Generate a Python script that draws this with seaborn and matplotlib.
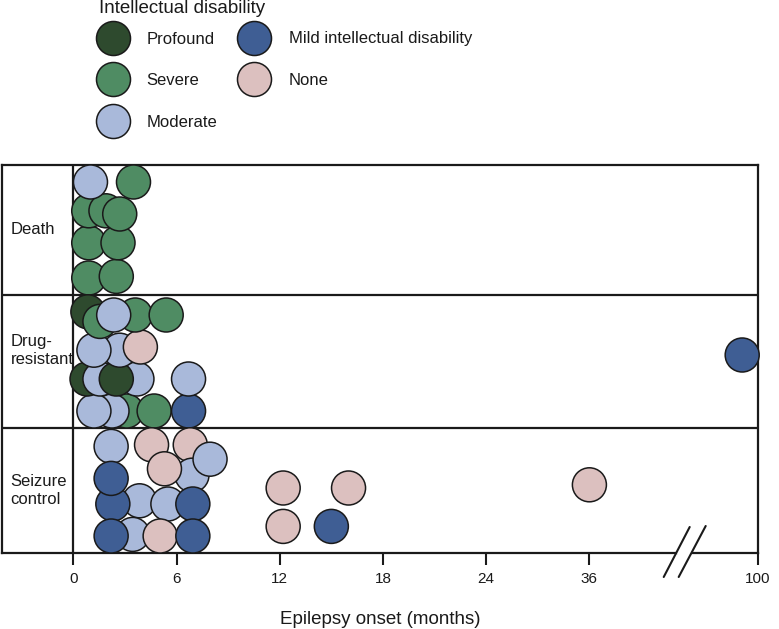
import numpy as np
import pandas as pd
import matplotlib
matplotlib.use('Agg')
import matplotlib.pyplot as plt
import matplotlib.lines as mlines
import seaborn as sns

# categories
id_levels = ['Profound', 'Severe', 'Moderate', 'Mild intellectual disability', 'None']
id_colors = ['#2e4a2e', '#4f8c63', '#a9b9da', '#3f5e94', '#dcc0bf']
outcomes = ['Seizure control', 'Drug-resistant', 'Death']
outcome_labels = ['Seizure\ncontrol', 'Drug-\nresistant', 'Death']

# x ticks (months); axis is broken after 36
tick_months = [0, 6, 12, 18, 24, 36, 100]

# Death (onset months, ID, stacking level in the swarm)
death_onset = [0.9, 2.5, 0.9, 2.6, 0.9, 1.9, 2.7, 1.0, 3.5]
death_id = ['Severe', 'Severe', 'Severe', 'Severe', 'Severe', 'Severe', 'Severe', 'Moderate', 'Severe']
death_stack = [0.0, 0.05, 1.1, 1.1, 2.1, 2.1, 2.0, 3.0, 3.0]

# Drug-resistant
drug_onset = [3.1, 2.25, 1.2, 4.7, 6.7,
              0.8, 1.55, 3.7, 2.5, 6.7, 94,
              2.7, 1.2, 3.9,
              0.85, 1.55, 3.6, 2.35, 5.4]
drug_id = ['Severe', 'Moderate', 'Moderate', 'Severe', 'Mild intellectual disability',
           'Profound', 'Moderate', 'Moderate', 'Profound', 'Moderate', 'Mild intellectual disability',
           'Moderate', 'Moderate', 'None',
           'Profound', 'Severe', 'Severe', 'Moderate', 'Severe']
drug_stack = [0.0, 0.0, 0.0, 0.0, 0.0,
              1.0, 1.0, 1.0, 1.0, 1.0, 1.75,
              1.9, 1.9, 2.0,
              3.1, 2.8, 3.0, 3.0, 3.0]

# Seizure control
seiz_onset = [2.2, 4.55, 6.8, 6.9, 5.3, 7.95,
              3.85, 5.5, 2.3, 6.95, 2.2,
              3.45, 2.2, 5.05, 6.95,
              12.2, 16.0, 36, 12.2, 15.0]
seiz_id = ['Moderate', 'None', 'None', 'Moderate', 'None', 'Moderate',
           'Moderate', 'Moderate', 'Mild intellectual disability', 'Mild intellectual disability',
           'Mild intellectual disability',
           'Moderate', 'Mild intellectual disability', 'None', 'Mild intellectual disability',
           'None', 'None', 'None', 'None', 'Mild intellectual disability']
seiz_stack = [2.8, 2.85, 2.85, 1.9, 2.1, 2.4,
              1.1, 1.0, 1.0, 1.0, 1.8,
              0.05, 0.0, 0.0, 0.0,
              1.5, 1.5, 1.6, 0.3, 0.3]


def to_axis(m):
    # 0-24 linear, 24-36 compressed, then break up to 100
    m = np.asarray(m, dtype=float)
    return np.where(m <= 24, m,
                    np.where(m <= 36, 24 + (m - 24) / 2, 30 + (m - 36) * 9.8 / 64))


# panel edges in axis units (pixel-like)
panel_edges = [0, 125, 258, 388]
row_pad, row_step = 17, 32

frames = []
for i, (name, on, idl, st) in enumerate([
        ('Seizure control', seiz_onset, seiz_id, seiz_stack),
        ('Drug-resistant', drug_onset, drug_id, drug_stack),
        ('Death', death_onset, death_id, death_stack)]):
    frames.append(pd.DataFrame({'outcome': name, 'onset': on, 'ID': idl, 'stack': st,
                                'panel': i}))
# draw death first, then drug, then seizure
df = pd.concat(frames[::-1], ignore_index=True)
df['xpos'] = to_axis(df['onset'])
df['ypos'] = [panel_edges[p] + row_pad + row_step * s for p, s in zip(df['panel'], df['stack'])]

sns.set_style('white')
plt.rcParams['font.family'] = ['Liberation Sans', 'DejaVu Sans']

fig = plt.figure(figsize=(7.79, 6.29), dpi=100)
ax = fig.add_axes([2 / 779, 1 - 553 / 629, 756 / 779, 388 / 629])

edge = '#1a1a1a'
sns.scatterplot(data=df, x='xpos', y='ypos', hue='ID', hue_order=id_levels,
                palette=dict(zip(id_levels, id_colors)), s=600, edgecolor=edge,
                linewidth=1.1, legend=False, ax=ax, zorder=3, clip_on=False)

x_left = -(73.3 - 2) / 17.21
ax.set_xlim(x_left, float(to_axis(100)))
ax.set_ylim(panel_edges[0], panel_edges[-1])

# panel separators and the zero line
for yv in panel_edges[1:-1]:
    ax.axhline(yv, color=edge, lw=1.6, zorder=1)
ax.axvline(0, color=edge, lw=1.6, zorder=1)

# outcome labels
label_frac = [0.5, 0.58, 0.5]
for i, lab in enumerate(outcome_labels):
    yv = panel_edges[i] + label_frac[i] * (panel_edges[i + 1] - panel_edges[i])
    ax.text(x_left + 0.5, yv, lab, ha='left', va='center', fontsize=12,
            linespacing=1.25, color='#1a1a1a')

for s in ax.spines.values():
    s.set_linewidth(1.6)
    s.set_color(edge)

ax.set_xticks(to_axis(tick_months))
ax.set_xticklabels([str(t) for t in tick_months])
ax.set_yticks([])
ax.tick_params(axis='x', bottom=True, direction='out', length=8.6, width=1.5,
               pad=5, labelsize=11, colors='#1a1a1a')
ax.set_xlabel('Epilepsy onset (months)', fontsize=13.5, labelpad=18, color='#1a1a1a')
ax.set_ylabel('')

# axis break
ax.plot([35.2, 35.85], [0, 0], color='white', lw=3, clip_on=False, zorder=5)
ax.plot([34.32, 35.83], [-24, 26], color=edge, lw=1.5, clip_on=False, zorder=6)
ax.plot([35.19, 36.76], [-24, 27], color=edge, lw=1.5, clip_on=False, zorder=6)

# legend
fig.text(99 / 779, 1 - 8.5 / 629, 'Intellectual disability', fontsize=13.5,
         ha='left', va='center', color='#1a1a1a')
handles = [mlines.Line2D([], [], marker='o', ls='', markersize=24.5, markerfacecolor=c,
                         markeredgecolor=edge, markeredgewidth=1.1) for c in id_colors]
leg = fig.legend(handles, id_levels, ncol=2, loc='upper left',
                 bbox_to_anchor=(100 / 779, 1 - 31.5 / 629),
                 frameon=False, fontsize=12,
                 handlelength=1.5, handletextpad=1.3, columnspacing=1.47,
                 labelspacing=1.6, borderpad=0, borderaxespad=0)
for t in leg.get_texts():
    t.set_color('#1a1a1a')

fig.savefig('out.png', dpi=100)
